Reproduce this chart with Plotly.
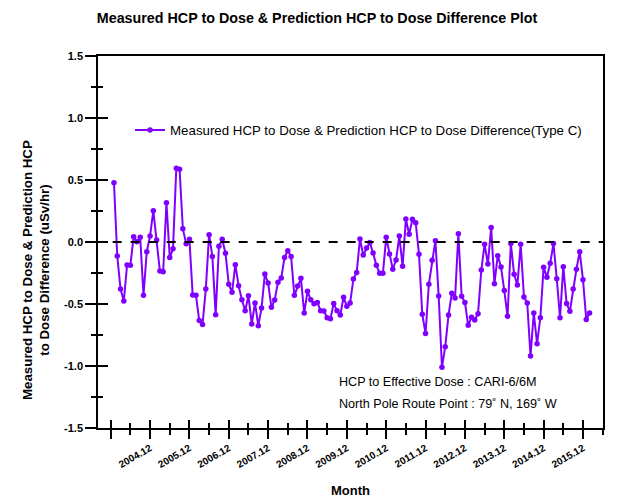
import plotly.graph_objects as go

# ---- data ----
START_YEAR = 2004
VALUES = [
    0.478, -0.113, -0.379, -0.476, -0.185, -0.188, 0.043, 0.003, 0.038, -0.43,
    -0.078, 0.048, 0.253, 0.016, -0.234, -0.239, 0.317, -0.126, -0.054, 0.594,
    0.586, 0.107, -0.014, 0.022, -0.427, -0.43, -0.634, -0.665, -0.38, 0.059,
    -0.116, -0.586, -0.035, 0.022, -0.091, -0.341, -0.406, -0.183, -0.352, -0.465,
    -0.554, -0.433, -0.661, -0.492, -0.675, -0.532, -0.258, -0.331, -0.527, -0.468,
    -0.325, -0.290, -0.126, -0.070, -0.116, -0.43, -0.355, -0.293, -0.573, -0.398,
    -0.465, -0.497, -0.487, -0.554, -0.556, -0.610, -0.618, -0.495, -0.554, -0.589,
    -0.446, -0.519, -0.492, -0.298, -0.245, 0.024, -0.105, -0.048, -0.005, -0.089,
    -0.188, -0.253, -0.253, 0.038, -0.097, -0.220, -0.145, 0.048, -0.196, 0.185,
    0.062, 0.183, 0.156, -0.099, -0.583, -0.737, -0.341, -0.148, 0.011, -0.435,
    -1.011, -0.844, -0.589, -0.414, -0.452, 0.067, -0.438, -0.487, -0.672, -0.607,
    -0.629, -0.578, -0.226, -0.019, -0.177, 0.116, -0.336, -0.110, -0.202, -0.392,
    -0.599, -0.013, -0.261, -0.347, -0.019, -0.444, -0.492, -0.919, -0.573, -0.820,
    -0.610, -0.204, -0.285, -0.172, -0.013, -0.296, -0.610, -0.199, -0.495, -0.559,
    -0.379, -0.220, -0.078, -0.304, -0.626, -0.573,
]
# month labels 2004.01 ... ; x index counts months after 2003.12
MONTHS = [f"{START_YEAR + i // 12}.{i % 12 + 1:02d}" for i in range(len(VALUES))]
X_INDEX = list(range(1, len(VALUES) + 1))
TICK_POS = list(range(0, 145, 12))
TICK_LABELS = [""] + [f"{y}.12" for y in range(2004, 2016)]
Y_TICK_VALS = [-1.5, -1.0, -0.5, 0.0, 0.5, 1.0, 1.5]
Y_TICK_TEXT = ["-1.5", "-1.0", "-0.5", "0.0", "0.5", "1.0", "1.5"]
X_RANGE = [-3.87, 150.1]
Y_RANGE = [-1.5, 1.5]

PURPLE = "#8000ff"
FONT = "Liberation Sans, Arial, sans-serif"

fig = go.Figure()
fig.add_trace(go.Scatter(
    x=X_INDEX, y=VALUES, customdata=MONTHS,
    mode="lines+markers",
    line=dict(color=PURPLE, width=2),
    marker=dict(color=PURPLE, size=5.5),
    name="Measured HCP to Dose & Prediction HCP to Dose Difference(Type C)",
    hovertemplate="%{customdata}: %{y}<extra></extra>",
))
# invisible trace to hold overlay axes (inside ticks)
fig.add_trace(go.Scatter(x=[X_INDEX[0]], y=[0], xaxis="x2", yaxis="y2",
                         mode="markers", marker=dict(opacity=0),
                         showlegend=False, hoverinfo="skip"))

# zero reference line
fig.add_shape(type="line", xref="x", yref="y",
              x0=X_INDEX[0] - 0.4, x1=X_RANGE[1], y0=0, y1=0,
              line=dict(color="black", width=2, dash="9px,9px"))

axis_common = dict(showgrid=False, zeroline=False, tickcolor="black",
                   tickwidth=1.5, automargin=False)
fig.update_layout(
    width=634, height=504,
    margin=dict(l=98, r=31, t=56, b=76),
    paper_bgcolor="white", plot_bgcolor="white",
    font=dict(family=FONT, color="black"),
    title=dict(text="<b>Measured HCP to Dose & Prediction HCP to Dose Difference Plot</b>",
               x=0.5, xanchor="center", y=0.964, yanchor="middle",
               font=dict(size=14.3, family=FONT, color="black")),
    xaxis=dict(range=X_RANGE, tickmode="array", tickvals=TICK_POS, ticktext=TICK_LABELS,
               ticks="outside", ticklen=9, tickangle=-30,
               minor=dict(ticks="outside", ticklen=5, dtick=6, tick0=6,
                          tickcolor="black", tickwidth=1.5),
               tickfont=dict(size=10, family=FONT, weight="bold"),
               showline=True, linecolor="black", linewidth=1.5, mirror=True,
               title=dict(text="<b>Month</b>", font=dict(size=13), standoff=17),
               **axis_common),
    xaxis2=dict(range=X_RANGE, overlaying="x", anchor="y", side="bottom",
                tickmode="array", tickvals=TICK_POS, ticks="inside", ticklen=8,
                minor=dict(ticks="inside", ticklen=5, dtick=6, tick0=6,
                           tickcolor="black", tickwidth=1.5),
                showticklabels=False, showline=False, **axis_common),
    yaxis=dict(range=Y_RANGE, tickmode="array", tickvals=Y_TICK_VALS, ticktext=Y_TICK_TEXT,
               ticks="outside", ticklen=11,
               minor=dict(ticks="outside", ticklen=5, dtick=0.25, tick0=0,
                          tickcolor="black", tickwidth=1.5),
               tickfont=dict(size=11, family=FONT, weight="bold"),
               showline=True, linecolor="black", linewidth=1.5, mirror=True,
               **axis_common),
    yaxis2=dict(range=Y_RANGE, overlaying="y", anchor="x", side="left",
                tickmode="array", tickvals=Y_TICK_VALS, ticks="inside", ticklen=10,
                minor=dict(ticks="inside", ticklen=5, dtick=0.25, tick0=0,
                           tickcolor="black", tickwidth=1.5),
                showticklabels=False, showline=False, **axis_common),
    legend=dict(x=0.0634, xanchor="left", y=0.842, yanchor="top",
                bgcolor="rgba(0,0,0,0)", borderwidth=0,
                font=dict(size=13.3, family=FONT, color="black")),
    showlegend=True,
)

fig.add_annotation(
    text="<b>Measured HCP to Dose & Prediction HCP<br>to Dose Difference (uSv/hr)</b>",
    xref="paper", yref="paper", x=(36 - 98) / 505, y=(428 - 270) / 372,
    xanchor="center", yanchor="middle",
    textangle=-90, showarrow=False, font=dict(size=13.3, family=FONT, color="black"),
)
fig.add_annotation(
    text="HCP to Effective Dose : CARI-6/6M",
    xref="paper", yref="paper", x=(337 - 98) / 505, y=(428 - 382) / 372,
    xanchor="left", yanchor="middle", showarrow=False,
    font=dict(size=12.6, family=FONT, color="black"),
)
fig.add_annotation(
    text="North Pole Route Point : 79˚ N, 169˚ W",
    xref="paper", yref="paper", x=(337 - 98) / 505, y=(428 - 404) / 372,
    xanchor="left", yanchor="middle", showarrow=False,
    font=dict(size=12.6, family=FONT, color="black"),
)

fig.write_html("out.html", config={"displayModeBar": False},
               post_script="document.body.style.margin='0';")
